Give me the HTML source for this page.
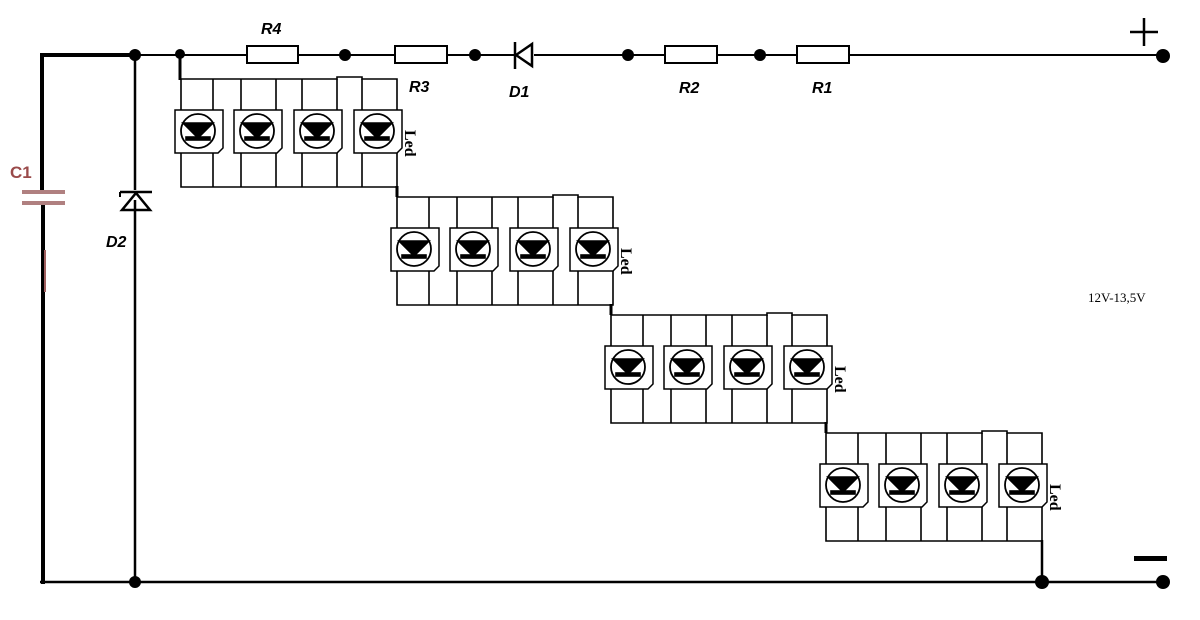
<!DOCTYPE html>
<html><head><meta charset="utf-8"><style>
html,body{margin:0;padding:0;background:#fff;width:1200px;height:620px;overflow:hidden}
svg{display:block}
</style></head><body>
<svg width="1200" height="620" viewBox="0 0 1200 620" xmlns="http://www.w3.org/2000/svg" style="font-family:'Liberation Sans',sans-serif">
<defs>
<g id="led">
 <path d="M0,0 H48 V38 L43,43 H0 Z" fill="#fff" stroke="#000" stroke-width="1.5"/>
 <circle cx="23" cy="21" r="17" fill="#fff" stroke="#000" stroke-width="1.8"/>
 <path d="M8,13 H38 L23,28 Z" fill="#000"/>
 <rect x="11" y="27" width="24" height="3" fill="#000"/>
</g>
<g id="grp" fill="none" stroke="#000" stroke-width="1.6">
 <path d="M0,2 H156 V0 H181 V2 H216 V110 H0 V2"/>
 <line x1="32" y1="2" x2="32" y2="110"/>
 <line x1="60" y1="2" x2="60" y2="110"/>
 <line x1="95" y1="2" x2="95" y2="110"/>
 <line x1="121" y1="2" x2="121" y2="110"/>
 <line x1="156" y1="2" x2="156" y2="110"/>
 <line x1="181" y1="2" x2="181" y2="110"/>
 <use href="#led" x="-6" y="33"/>
 <use href="#led" x="53" y="33"/>
 <use href="#led" x="113" y="33"/>
 <use href="#led" x="173" y="33"/>
 <text x="0" y="0" transform="translate(224,53) rotate(90)" style="font-family:'Liberation Serif',serif;font-size:16px;font-weight:bold" fill="#000" stroke="none">Led</text>
</g>
</defs>

<line x1="42" y1="55" x2="1163" y2="55" stroke="#000" stroke-width="2"/>
<line x1="40" y1="55" x2="135" y2="55" stroke="#000" stroke-width="4"/>
<line x1="42" y1="53" x2="42" y2="192" stroke="#000" stroke-width="4"/>
<line x1="43" y1="203" x2="43" y2="584" stroke="#000" stroke-width="4"/>
<line x1="40" y1="582" x2="1163" y2="582" stroke="#000" stroke-width="2.5"/>
<line x1="135" y1="55" x2="135" y2="582" stroke="#000" stroke-width="2.5"/>
<line x1="45" y1="250" x2="45" y2="292" stroke="#a06060" stroke-width="2"/>
<rect x="22" y="190" width="43" height="4" fill="#b08080"/>
<rect x="22" y="201" width="43" height="4" fill="#b08080"/>
<text x="10" y="178" font-size="17" font-weight="bold" fill="#9a4a4a">C1</text>
<rect x="122" y="190" width="28" height="10" fill="#fff"/>
<path d="M120,192 H152 M122,210 H150 L136,193 Z" fill="none" stroke="#000" stroke-width="2.5"/>
<path d="M120,192 V197" stroke="#000" stroke-width="2"/>
<text x="106" y="247" font-size="16" font-weight="bold" font-style="italic">D2</text>
<rect x="247" y="46" width="51" height="17" fill="#fff" stroke="#000" stroke-width="2"/>
<rect x="395" y="46" width="52" height="17" fill="#fff" stroke="#000" stroke-width="2"/>
<rect x="665" y="46" width="52" height="17" fill="#fff" stroke="#000" stroke-width="2"/>
<rect x="797" y="46" width="52" height="17" fill="#fff" stroke="#000" stroke-width="2"/>
<text x="261" y="34" font-size="16" font-weight="bold" font-style="italic">R4</text>
<text x="409" y="92" font-size="16" font-weight="bold" font-style="italic">R3</text>
<text x="679" y="93" font-size="16" font-weight="bold" font-style="italic">R2</text>
<text x="812" y="93" font-size="16" font-weight="bold" font-style="italic">R1</text>
<rect x="514" y="44" width="20" height="22" fill="#fff"/>
<line x1="515" y1="42" x2="515" y2="69" stroke="#000" stroke-width="2.5"/>
<path d="M516,55 L532,44 V66 Z" fill="#fff" stroke="#000" stroke-width="2.5"/>
<text x="509" y="97" font-size="16" font-weight="bold" font-style="italic">D1</text>
<g fill="#000">
<circle cx="135" cy="55" r="6"/><circle cx="180" cy="54" r="5"/>
<circle cx="345" cy="55" r="6"/><circle cx="475" cy="55" r="6"/>
<circle cx="628" cy="55" r="6"/><circle cx="760" cy="55" r="6"/>
<circle cx="1163" cy="56" r="7"/><circle cx="135" cy="582" r="6"/>
<circle cx="1042" cy="582" r="7"/><circle cx="1163" cy="582" r="7"/>
</g>
<path d="M1130,32 H1158 M1144,18 V46" stroke="#000" stroke-width="2.5"/>
<rect x="1134" y="556" width="33" height="5" fill="#000"/>
<text x="1088" y="302" style="font-family:'Liberation Serif',serif;font-size:13px">12V-13,5V</text>
<line x1="180" y1="55" x2="180" y2="80" stroke="#000" stroke-width="3"/>
<use href="#grp" x="181" y="77"/>
<use href="#grp" x="397" y="195"/>
<use href="#grp" x="611" y="313"/>
<use href="#grp" x="826" y="431"/>
<line x1="397" y1="186" x2="397" y2="197" stroke="#000" stroke-width="3"/>
<line x1="611" y1="304" x2="611" y2="315" stroke="#000" stroke-width="3"/>
<line x1="826" y1="422" x2="826" y2="433" stroke="#000" stroke-width="3"/>
<line x1="1042" y1="540" x2="1042" y2="582" stroke="#000" stroke-width="2.5"/>
</svg>
</body></html>
